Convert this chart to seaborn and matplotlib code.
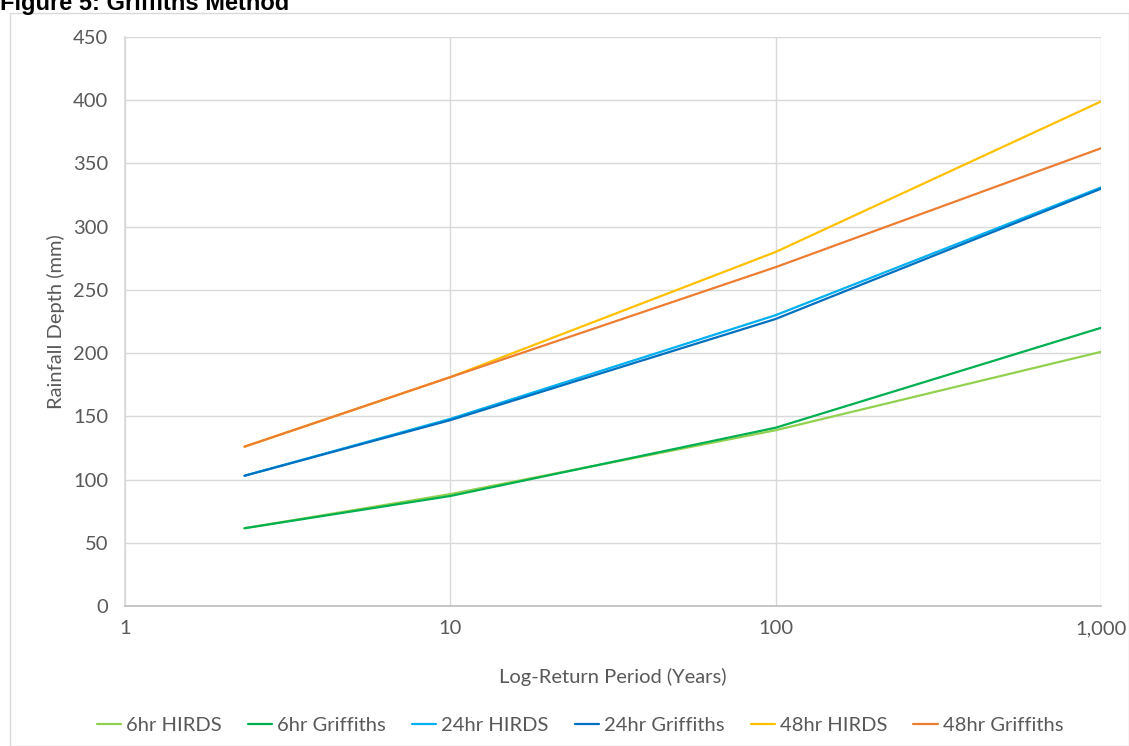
import matplotlib
matplotlib.use("Agg")
import matplotlib.pyplot as plt
from matplotlib.patches import Rectangle
from matplotlib.ticker import FixedLocator, FixedFormatter, NullLocator
import seaborn as sns
import pandas as pd

# ---- data ----
return_periods = [2.33, 10, 100, 1000]
hirds_6hr = [61.5, 88.5, 139, 201]
griffiths_6hr = [61.5, 87, 141, 220]
hirds_24hr = [103, 148, 230, 331]
griffiths_24hr = [103, 147, 227, 330]
hirds_48hr = [126, 181, 280, 399]
griffiths_48hr = [126, 181, 268, 362]

series_names = ["6hr HIRDS", "6hr Griffiths", "24hr HIRDS",
                "24hr Griffiths", "48hr HIRDS", "48hr Griffiths"]
series_values = [hirds_6hr, griffiths_6hr, hirds_24hr,
                 griffiths_24hr, hirds_48hr, griffiths_48hr]
colors = ["#92D050", "#00B050", "#00B0F0", "#0070C0", "#FFC000", "#ED7D31"]

x_ticks = [1, 10, 100, 1000]
x_tick_labels = ["1", "10", "100", "1,000"]
y_ticks = list(range(0, 451, 50))

rows = []
for name, vals in zip(series_names, series_values):
    for p, v in zip(return_periods, vals):
        rows.append({"period": p, "depth": v, "series": name})
df = pd.DataFrame(rows)

sns.set_theme(style="white")
plt.rcParams["font.family"] = ["Lato", "DejaVu Sans"]

fig = plt.figure(figsize=(11.29, 7.46), dpi=100)
ax = fig.add_axes([125 / 1129, 1 - 606 / 746, (1101 - 125) / 1129, (606 - 37) / 746])

sns.lineplot(data=df, x="period", y="depth", hue="series",
             hue_order=series_names, palette=colors, ax=ax,
             linewidth=1.6, legend=True)

ax.set_xscale("log")
ax.set_xlim(1, 1000)
ax.set_ylim(0, 450)
ax.xaxis.set_major_locator(FixedLocator(x_ticks))
ax.xaxis.set_major_formatter(FixedFormatter(x_tick_labels))
ax.xaxis.set_minor_locator(NullLocator())
ax.set_yticks(y_ticks)

grid_c = "#D9D9D9"
ax.grid(True, which="major", color=grid_c, linewidth=1.0)
ax.set_axisbelow(True)
for s in ["top", "right"]:
    ax.spines[s].set_visible(False)
ax.spines["left"].set_color(grid_c)
ax.spines["bottom"].set_color("#BFBFBF")
ax.tick_params(axis="both", length=0, labelsize=14.5, colors="#595959")
ax.tick_params(axis="y", pad=12)
ax.tick_params(axis="x", pad=10)

ax.set_xlabel("Log-Return Period (Years)", fontsize=14.5, color="#595959", labelpad=22)
ax.set_ylabel("Rainfall Depth (mm)", fontsize=14.5, color="#595959", labelpad=6)

handles, labels = ax.get_legend_handles_labels()
ax.legend(handles, labels, loc="center", bbox_to_anchor=(580 / 1129, 1 - 725 / 746),
          bbox_transform=fig.transFigure, ncol=6, frameon=False,
          fontsize=14.5, handlelength=1.2, handletextpad=0.25, columnspacing=1.3,
          labelcolor="#595959")

# outer chart border
fig.patches.append(Rectangle((10 / 1129, 0), 1 - 10 / 1129, 1 - 13 / 746,
                             transform=fig.transFigure, fill=False,
                             edgecolor="#D9D9D9", linewidth=1.0))

fig.text(0.0, 1 - 10 / 746, "Figure 5: Griffiths Method", fontsize=17,
         fontweight="bold", family=["Liberation Sans", "DejaVu Sans"],
         ha="left", va="baseline", color="black")

fig.savefig("out.png", dpi=100)
